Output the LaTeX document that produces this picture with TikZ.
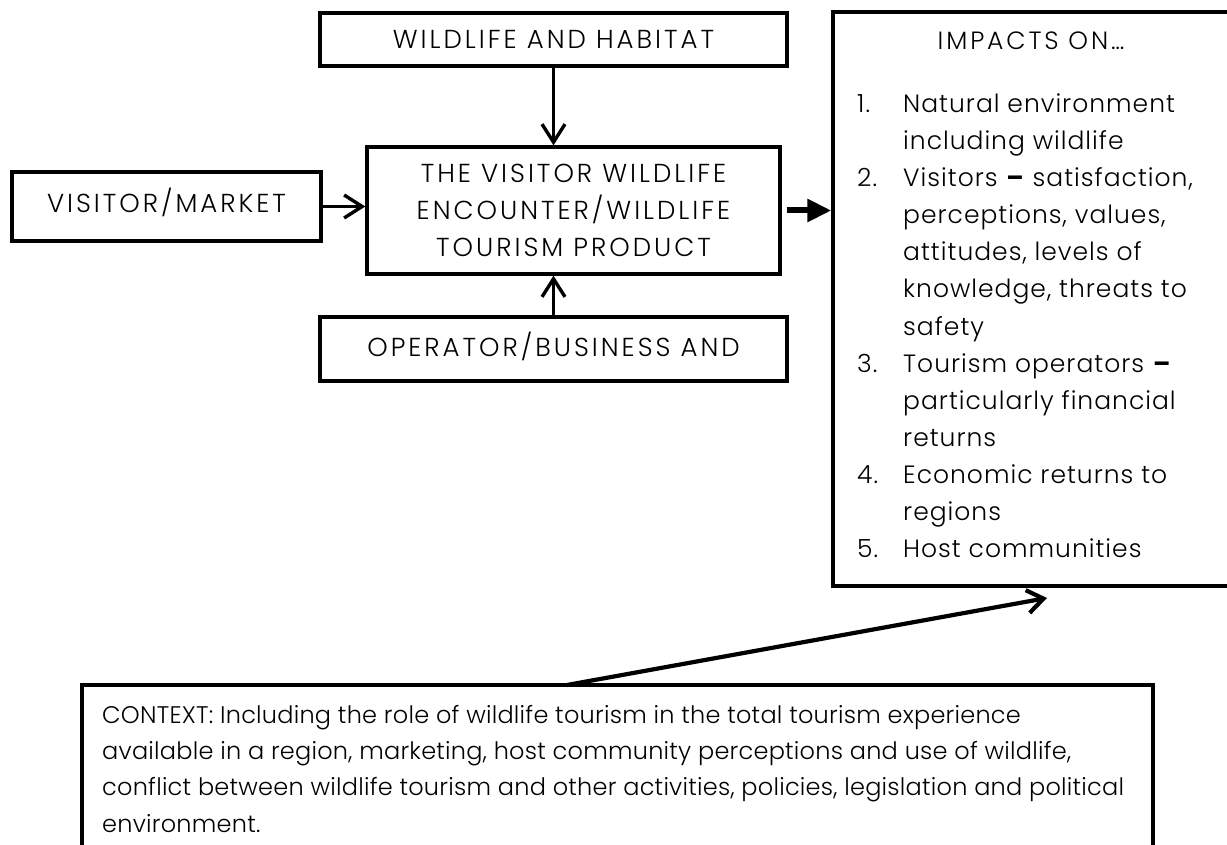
\documentclass[tikz,border=0pt]{standalone}
\usepackage{fontspec}
\setmainfont{Poppins}[UprightFont=* Light, BoldFont=* Bold]
\newfontfamily\capf{Poppins}[UprightFont=* Light, BoldFont=* Bold, LetterSpace=11.5]
\newfontfamily\itmf{Poppins}[UprightFont=* Light, BoldFont=* Bold, LetterSpace=4]
\newfontfamily\ctxf{Poppins}[UprightFont=* Light, BoldFont=* Bold, LetterSpace=1]
\usetikzlibrary{arrows.meta}
\begin{document}
\begin{tikzpicture}[x=1pt,y=-1pt,
  box/.style={draw, line width=3.4pt, inner sep=0pt, align=center, font=\capf\fontsize{26}{36.7}\selectfont},
  itm/.style={anchor=base west, inner sep=0pt, font=\itmf\fontsize{25}{30}\selectfont},
  ctxt/.style={anchor=base west, inner sep=0pt, font=\ctxf\fontsize{24}{30}\selectfont},
  arr/.style={line width=3.4pt, -{Straight Barb[length=18pt,width=23pt]}},
]
\useasboundingbox (0,0) rectangle (1227,845);
\fill[white] (0,0) rectangle (1227,845);

\node[box, minimum width=467pt, minimum height=53pt] (wild) at (553.5,39.5) {WILDLIFE AND HABITAT};
\node[box, minimum width=309pt, minimum height=69pt, text depth=13pt] (vis) at (166.5,206.5) {VISITOR/MARKET};
\node[box, minimum width=413pt, minimum height=127pt] (ctr) at (573.5,210.5)
  {THE VISITOR WILDLIFE\\ENCOUNTER/WILDLIFE\\TOURISM PRODUCT};
\node[box, minimum width=467pt, minimum height=64pt, text depth=10pt] (op) at (553.5,349) {OPERATOR/BUSINESS AND};
\node[draw, line width=3.4pt, inner sep=0pt, minimum width=399pt, minimum height=574pt] (imp) at (1032.5,299) {};
\node[draw, line width=3.4pt, inner sep=0pt, minimum width=1071pt, minimum height=170pt] (ctx) at (617.5,770) {};

% impacts text
\node[anchor=base, inner sep=0pt, font=\capf\fontsize{25}{30}\selectfont] (impt) at (1031,50) {IMPACTS ON\dots};
\node[itm] (n1) at (857,113) {1.};
\node[itm] (n2) at (857,187) {2.};
\node[itm] (n3) at (857,372) {3.};
\node[itm] (n4) at (857,483) {4.};
\node[itm] (n5) at (857,557) {5.};
\node[itm] (t1) at (903,113) {Natural environment};
\node[itm] (t2) at (903,150) {including wildlife};
\node[itm] (t3) at (903,187) {Visitors \textbf{–} satisfaction,};
\node[itm] (t4) at (903,224) {perceptions, values,};
\node[itm] (t5) at (903,261) {attitudes, levels of};
\node[itm] (t6) at (903,298) {knowledge, threats to};
\node[itm] (t7) at (903,335) {safety};
\node[itm] (t8) at (903,372) {Tourism operators \textbf{–}};
\node[itm] (t9) at (903,409) {particularly financial};
\node[itm] (t10) at (903,446) {returns};
\node[itm] (t11) at (903,483) {Economic returns to};
\node[itm] (t12) at (903,520) {regions};
\node[itm] (t13) at (903,557) {Host communities};

% context text
\node[ctxt] (c1) at (102,723) {CONTEXT: Including the role of wildlife tourism in the total tourism experience};
\node[ctxt] (c2) at (102,759) {available in a region, marketing, host community perceptions and use of wildlife,};
\node[ctxt] (c3) at (102,795.5) {conflict between wildlife tourism and other activities, policies, legislation and political};
\node[ctxt] (c4) at (102,832) {environment.};

% connectors
\draw[arr] (wild.south) -- (wild.south |- ctr.north);
\draw[arr] (op.north) -- (op.north |- ctr.south);
\draw[arr] (vis.east) -- (vis.east -| ctr.west);
\draw[line width=6pt, -{Triangle[length=24pt,width=22pt]}] ([xshift=5pt]ctr.east) -- (ctr.east -| imp.west);
\coordinate (ctxa) at (567,685);
\coordinate (impb) at (1047,598);
\draw[line width=4.2pt, -{Straight Barb[length=16pt,width=23pt]}] (ctxa) -- (impb);
\end{tikzpicture}
\end{document}
